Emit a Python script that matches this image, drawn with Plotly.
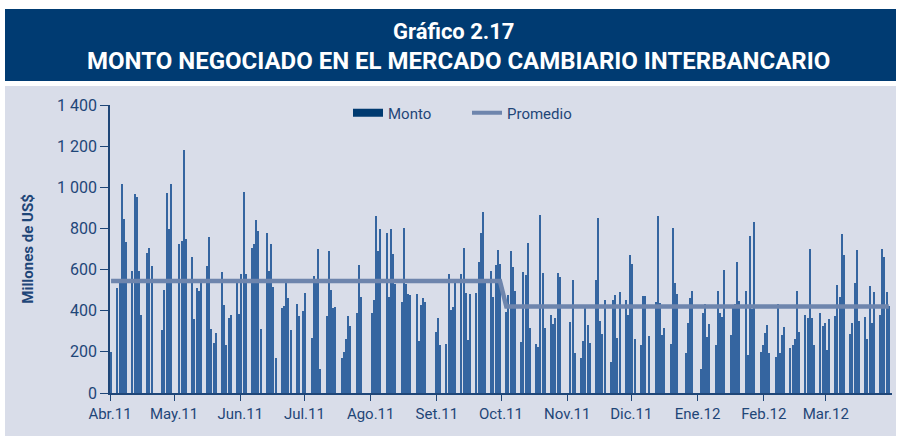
import pandas as pd
import plotly.graph_objects as go

# Weekly blocks: Monday date, then values Mon..Fri (None = no trading / holiday)
semanas = [
    "2011-03-28", "2011-04-04", "2011-04-11", "2011-04-18", "2011-04-25",
    "2011-05-02", "2011-05-09", "2011-05-16", "2011-05-23", "2011-05-30",
    "2011-06-06", "2011-06-13", "2011-06-20", "2011-06-27", "2011-07-04",
    "2011-07-11", "2011-07-18", "2011-07-25", "2011-08-01", "2011-08-08",
    "2011-08-15", "2011-08-22", "2011-08-29", "2011-09-05", "2011-09-12",
    "2011-09-19", "2011-09-26", "2011-10-03", "2011-10-10", "2011-10-17",
    "2011-10-24", "2011-10-31", "2011-11-07", "2011-11-14", "2011-11-21",
    "2011-11-28", "2011-12-05", "2011-12-12", "2011-12-19", "2011-12-26",
    "2012-01-02", "2012-01-09", "2012-01-16", "2012-01-23", "2012-01-30",
    "2012-02-06", "2012-02-13", "2012-02-20", "2012-02-27", "2012-03-05",
    "2012-03-12", "2012-03-19", "2012-03-26",
]
monto_semanal = [
    [None, None, None, None, 200],
    [511, 540, 1015, 846, 736],
    [595, 967, 954, 592, 380],
    [681, 705, 616, None, None],
    [307, 501, 972, 797, 1015],
    [None, 724, 741, 1180, 749],
    [663, 361, 511, 498, 534],
    [619, 760, 312, 243, 293],
    [590, 430, 231, 365, 377],
    [534, 385, 579, 975, 579],
    [705, 724, 841, 786, 312],
    [776, 592, 724, 517, 170],
    [414, 425, 534, 461, 304],
    [433, 374, None, 401, 485],
    [268, 568, 555, 700, 118],
    [372, 692, 503, 414, 420],
    [170, 199, 264, 374, 325],
    [388, 623, 469, None, None],
    [388, 454, 862, 692, 797],
    [778, 469, 797, 676, 530],
    [441, 802, 530, 479, 474],
    [479, 251, 430, 461, 441],
    [None, None, 296, 364, 231],
    [239, 579, 404, 420, 534],
    [579, 703, 485, 260, 482],
    [487, 639, 778, 878, 540],
    [592, 469, 624, 695, 627],
    [396, 474, 692, 614, 498],
    [247, 590, 576, 729, 315],
    [236, 223, 867, 584, 315],
    [377, 336, 364, 582, 566],
    [None, None, 344, 547, 194],
    [171, 251, 414, 333, 243],
    [547, 851, 349, 288, 454],
    [150, 454, 474, 268, 493],
    [454, 377, 673, 627, 264],
    [234, 471, 471, None, 277],
    [441, 862, 438, 283, 317],
    [239, 802, 534, 479, None],
    [194, 341, 462, 498, None],
    [118, 390, 433, 272, 336],
    [234, 498, 390, 369, 600],
    [280, 428, 433, 635, 446],
    [498, 183, 762, 409, 830],
    [199, 231, 293, 331, 194],
    [175, 433, 196, 280, 323],
    [218, 231, 264, 498, 296],
    [380, 365, 700, 365, 231],
    [388, 328, 341, 207, 361],
    [374, 526, 469, 773, 673],
    [288, 340, 534, 697, 348],
    [369, 264, 519, 341, 493],
    [377, 700, 663, 490, 425],
]
# Average levels (Apr-Sep 2011, Oct 2011-Mar 2012)
promedio_1 = 545
promedio_2 = 420
corte_promedio = "2011-10-01"

tick_fechas = ["2011-04-01", "2011-05-01", "2011-06-01", "2011-07-01", "2011-08-01",
               "2011-09-01", "2011-10-01", "2011-11-01", "2011-12-01", "2012-01-01",
               "2012-02-01", "2012-03-01"]
tick_meses = ["Abr.11", "May.11", "Jun.11", "Jul.11", "Ago.11", "Set.11", "Oct.11",
              "Nov.11", "Dic.11", "Ene.12", "Feb.12", "Mar.12"]
y_ticks = [0, 200, 400, 600, 800, 1000, 1200, 1400]
y_ticktext = ["0", "200", "400", "600", "800", "1 000", "1 200", "1 400"]

# ---- build daily series
fechas, monto = [], []
for lunes, vals in zip(semanas, monto_semanal):
    base = pd.Timestamp(lunes)
    for i, v in enumerate(vals):
        if v is not None:
            fechas.append(base + pd.Timedelta(days=i, hours=12))
            monto.append(v)
corte = pd.Timestamp(corte_promedio)
promedio = [promedio_1 if f < corte else promedio_2 for f in fechas]

DARK = "#1f4678"
FONT = "Roboto, sans-serif"
W, H = 901, 436
L, R, T, B = 110, 9, 105, 43
pw, ph = W - L - R, H - T - B


def px(x):
    return (x - L) / pw


def py(y):
    return (H - B - y) / ph


fig = go.Figure()
fig.add_trace(go.Bar(x=fechas, y=monto, name="Monto", marker_color="#3565a0",
                     marker_line_width=0, width=0.5 * 86400000, showlegend=False))
fig.add_trace(go.Scatter(x=fechas, y=promedio, mode="lines", name="Promedio",
                         line=dict(color="#6e85ad", width=4.5), showlegend=False))
# legend entries
fig.add_trace(go.Scatter(x=[None], y=[None], mode="lines", name="Monto",
                         line=dict(color="#003a70", width=8)))
fig.add_trace(go.Scatter(x=[None], y=[None], mode="lines", name="Promedio",
                         line=dict(color="#6e85ad", width=4)))

shapes = [
    dict(type="rect", xref="paper", yref="paper", x0=px(5), x1=px(896), y0=py(86), y1=py(436),
         fillcolor="#d9dde9", line_width=0, layer="below"),
    dict(type="rect", xref="paper", yref="paper", x0=px(5), x1=px(896), y0=py(9), y1=py(81),
         fillcolor="#003b72", line_width=0, layer="below"),
]
annotations = [
    dict(text="<b>Gráfico 2.17</b>", xref="paper", yref="paper", x=px(453), y=py(31),
         xanchor="center", yanchor="middle", showarrow=False,
         font=dict(family=FONT, size=22, color="white")),
    dict(text="<b>MONTO NEGOCIADO EN EL MERCADO CAMBIARIO INTERBANCARIO</b>", xref="paper",
         yref="paper", x=px(458), y=py(61), xanchor="center", yanchor="middle",
         showarrow=False, font=dict(family=FONT, size=24, color="white")),
]

fig.update_layout(
    width=W, height=H,
    margin=dict(l=L, r=R, t=T, b=B),
    paper_bgcolor="white", plot_bgcolor="#d9dde9",
    bargap=0,
    shapes=shapes, annotations=annotations,
    font=dict(family=FONT, size=15, color=DARK),
    legend=dict(orientation="h", x=px(348), y=py(113), xanchor="left", yanchor="middle",
                bgcolor="rgba(0,0,0,0)", font=dict(size=15, color=DARK), itemwidth=30,
                entrywidth=74, entrywidthmode="pixels", tracegroupgap=0),
    xaxis=dict(type="date", range=["2011-04-01", "2012-04-01"], tickvals=tick_fechas,
               ticktext=tick_meses, ticks="outside", ticklen=6, tickcolor=DARK,
               showline=True, linecolor=DARK, linewidth=1.5, showgrid=False, zeroline=False,
               tickfont=dict(size=15, color=DARK)),
    yaxis=dict(range=[0, 1400], tickvals=y_ticks, ticktext=y_ticktext, ticks="outside",
               ticklen=8, tickcolor=DARK, showline=True, linecolor=DARK, linewidth=1.5,
               showgrid=False, zeroline=False, tickfont=dict(size=16, color=DARK),
               title=dict(text="<b>Millones de US$</b>", font=dict(size=15, color=DARK),
                          standoff=20)),
)

fig.write_html("out.html", config={"displayModeBar": False},
               post_script="document.body.style.margin='0px';")
